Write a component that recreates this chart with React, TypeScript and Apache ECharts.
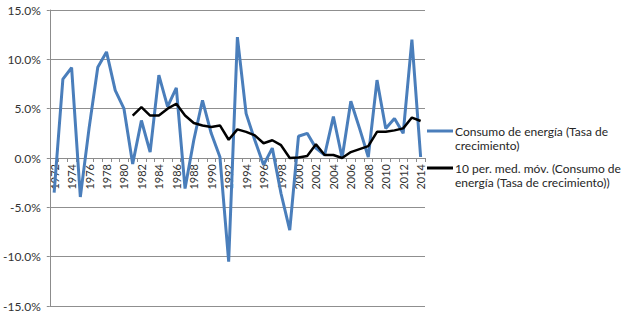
import React, { useEffect, useRef } from "react";
import * as echarts from "echarts";

const years: string[] = [];
for (let y = 1972; y <= 2014; y++) years.push(String(y));

const consumo: number[] = [
  -3.5, 8.0, 9.15, -3.95, 3.0, 9.2, 10.75, 6.85, 5.0, -0.6,
  3.8, 0.6, 8.4, 5.2, 7.1, -3.1, 1.8, 5.85, 2.5, 0.1,
  -10.5, 12.25, 4.5, 1.8, -0.7, 1.0, -3.6, -7.3, 2.2, 2.5,
  1.0, 0.3, 4.2, 0.0, 5.75, 3.0, 0.1, 7.9, 3.0, 4.0,
  2.5, 12.0, 0.1,
];

const mediaMovil: (number | null)[] = [
  null, null, null, null, null, null, null, null, null,
  4.3, 5.15, 4.3, 4.3, 5.0, 5.5, 4.3, 3.55, 3.3, 3.15,
  3.3, 1.85, 2.9, 2.65, 2.3, 1.5, 1.8, 1.3, 0.0, 0.05,
  0.2, 1.4, 0.3, 0.3, 0.0, 0.6, 0.9, 1.2, 2.65, 2.65,
  2.8, 3.0, 4.1, 3.75,
];

const legendNames = [
  "Consumo de energía (Tasa de\ncrecimiento)",
  "10 per. med. móv. (Consumo de\nenergía (Tasa de crecimiento))",
];

const BLUE = "#4a7ebb";
const FONT = "Lato";
const GRID_TOP = 10;
const GRID_BOTTOM = 13;
const CHART_H = 319;

export default function App() {
  const ref = useRef<HTMLDivElement>(null);
  useEffect(() => {
    if (!ref.current) return;
    const chart = echarts.init(ref.current, null, { renderer: "svg" });
    // y range is symmetric (-15..15), so the zero line sits at the grid's middle
    const gridH = CHART_H - GRID_TOP - GRID_BOTTOM;
    const zeroOffset = -gridH / 2;
    chart.setOption({
      animation: false,
      backgroundColor: "#ffffff",
      grid: { left: 49, right: 199, top: GRID_TOP, bottom: GRID_BOTTOM, containLabel: false },
      xAxis: {
        type: "category",
        data: years,
        boundaryGap: true,
        position: "bottom",
        offset: zeroOffset,
        axisLine: { onZero: false, lineStyle: { color: "#8c8c8c", width: 1 } },
        axisTick: { show: true, interval: 0, length: 4, lineStyle: { color: "#8c8c8c" } },
        axisLabel: {
          interval: 1,
          rotate: 90,
          margin: 6,
          fontSize: 11,
          color: "#333",
          fontFamily: FONT,
        },
        splitLine: { show: false },
      },
      yAxis: {
        type: "value",
        min: -15,
        max: 15,
        interval: 5,
        axisLine: { show: true, onZero: false, lineStyle: { color: "#8c8c8c", width: 1 } },
        axisTick: { show: true, length: 3, lineStyle: { color: "#8c8c8c" } },
        axisLabel: {
          formatter: (v: number) => v.toFixed(1) + "%",
          fontSize: 12,
          color: "#333",
          fontFamily: FONT,
          margin: 9,
        },
        splitLine: { show: true, lineStyle: { color: "#8f8f8f", width: 1 } },
      },
      series: [
        {
          name: legendNames[0],
          type: "line",
          data: consumo,
          symbol: "none",
          lineStyle: { color: BLUE, width: 3 },
          itemStyle: { color: BLUE },
          z: 2,
        },
        {
          name: legendNames[1],
          type: "line",
          data: mediaMovil,
          symbol: "none",
          connectNulls: false,
          lineStyle: { color: "#000", width: 2.5 },
          itemStyle: { color: "#000" },
          z: 3,
        },
      ],
      graphic: [
        {
          type: "line",
          shape: { x1: 427, y1: 131, x2: 453, y2: 131 },
          style: { stroke: BLUE, lineWidth: 3 },
        },
        {
          type: "text",
          x: 455,
          y: 124,
          style: {
            text: legendNames[0],
            fontSize: 12,
            lineHeight: 14,
            fontFamily: FONT,
            fill: "#262626",
            verticalAlign: "top",
          },
        },
        {
          type: "line",
          shape: { x1: 427, y1: 168, x2: 453, y2: 168 },
          style: { stroke: "#000", lineWidth: 3 },
        },
        {
          type: "text",
          x: 455,
          y: 161,
          style: {
            text: legendNames[1],
            fontSize: 12,
            lineHeight: 14,
            fontFamily: FONT,
            fill: "#262626",
            verticalAlign: "top",
          },
        },
      ],
    });
    return () => chart.dispose();
  }, []);
  return (
    <div
      ref={ref}
      style={{ position: "fixed", left: 0, top: 0, width: 624, height: 319 }}
    />
  );
}
